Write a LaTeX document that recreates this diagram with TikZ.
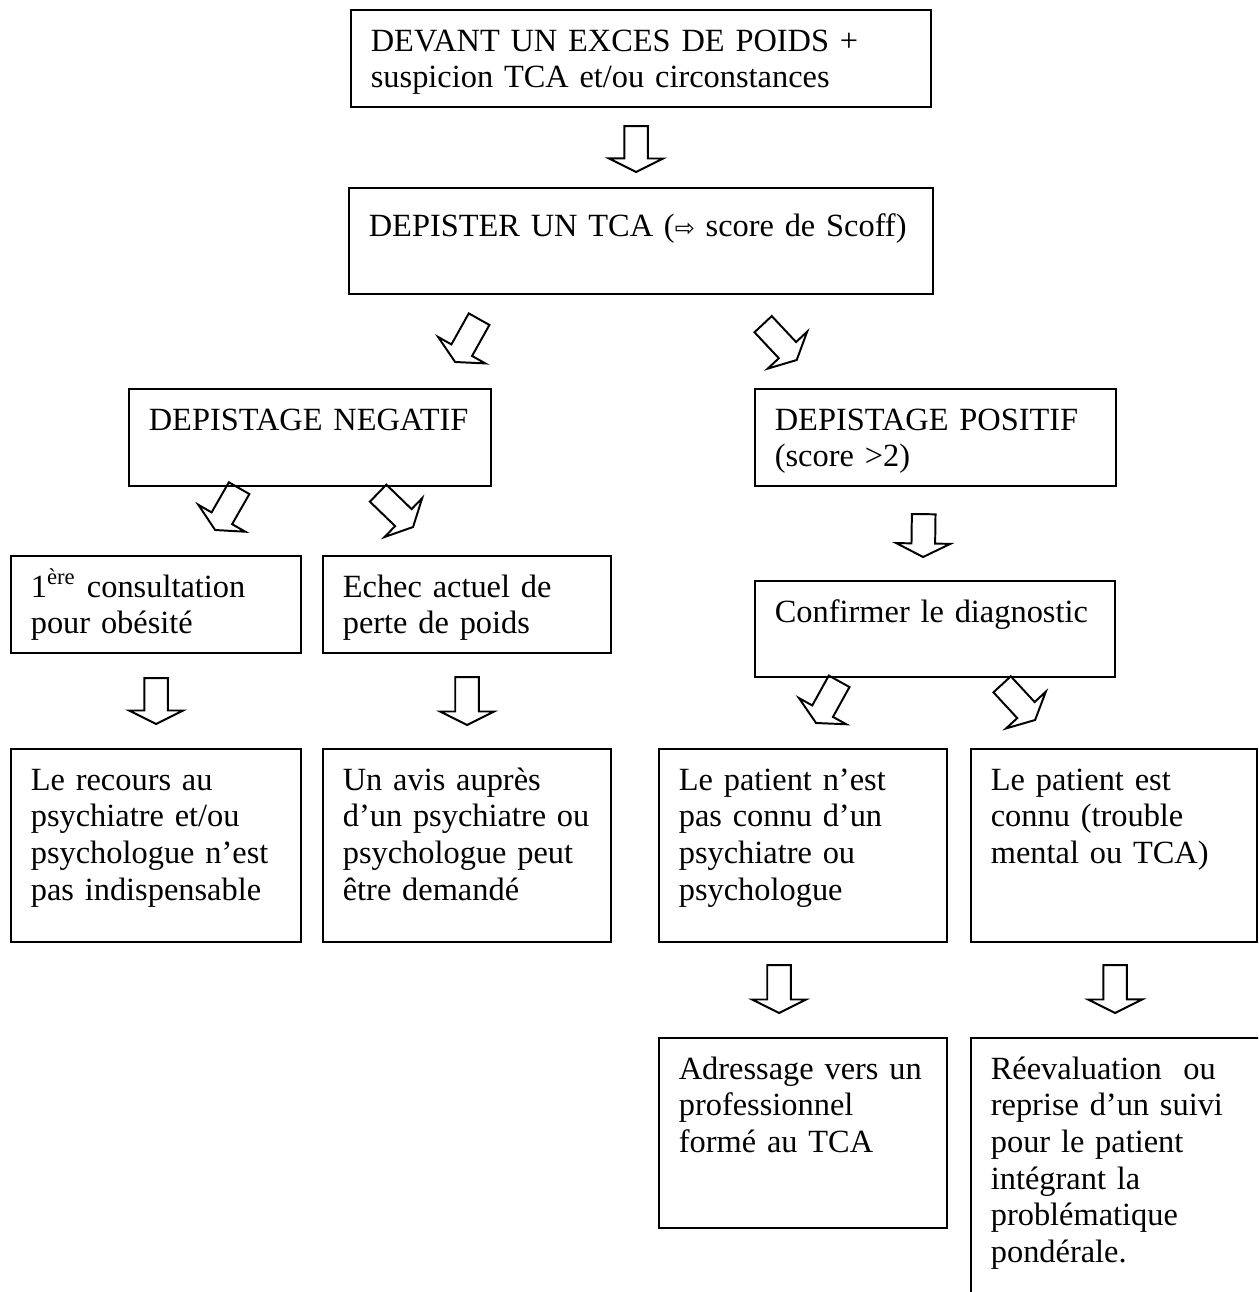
\documentclass[tikz,border=0pt]{standalone}
\usepackage{fontspec}
\setmainfont{Liberation Serif}
\newfontfamily\symfont{DejaVu Sans}
\usetikzlibrary{calc}

\tikzset{
    box/.style={draw, line width=0.8pt, anchor=north west, align=left,
        inner sep=0pt, text height=14.6pt,
        font=\fontsize{11.5}{13}\selectfont,
        execute at begin node={\leftskip=7pt \rightskip=0pt plus 1fil \hyphenpenalty=10000 \relax}},
    % hollow block arrow drawn from start to target
    hollow/.style={draw, line width=0.7pt,
        to path={
            ($(\tikztostart)!4.2pt!90:(\tikztotarget)$)
            -- ($(\tikztotarget)!4.8pt!(\tikztostart)!4.2pt!-90:(\tikztostart)$)
            -- ($(\tikztotarget)!4.8pt!(\tikztostart)!9.6pt!-90:(\tikztostart)$)
            -- (\tikztotarget)
            -- ($(\tikztotarget)!4.8pt!(\tikztostart)!9.6pt!90:(\tikztostart)$)
            -- ($(\tikztotarget)!4.8pt!(\tikztostart)!4.2pt!90:(\tikztostart)$)
            -- ($(\tikztostart)!4.2pt!-90:(\tikztotarget)$)
            -- cycle
        }}
}

\begin{document}
\begin{tikzpicture}[x=0.355pt, y=-0.355pt]
    \useasboundingbox (0,0) rectangle (1258,1292);
    \clip (0,0) rectangle (1258,1292);

    % boxes
    \node[box, text width=205.9pt, text depth=19.8pt] (exces) at (350,9)
        {DEVANT UN EXCES DE POIDS +\\suspicion TCA et/ou circonstances};
    \node[box, text width=207.3pt, text height=17pt, text depth=20.6pt] (tca) at (348,187)
        {DEPISTER UN TCA ({\symfont\fontsize{8.5}{9}\selectfont ⇨} score de Scoff)};
    \node[box, text width=128.5pt, text depth=19.8pt] (negatif) at (128,388)
        {DEPISTAGE NEGATIF};
    \node[box, text width=128.2pt, text depth=19.8pt] (positif) at (754,388)
        {DEPISTAGE POSITIF\\(score >2)};
    \node[box, text width=102.95pt, text depth=19.8pt] (premiere) at (10,555)
        {1\textsuperscript{ère} consultation\\pour obésité};
    \node[box, text width=102.2pt, text depth=19.8pt] (echec) at (322,555)
        {Echec actuel de\\perte de poids};
    \node[box, text width=127.8pt, text depth=19.5pt] (confirmer) at (754,580)
        {Confirmer le diagnostic};
    \node[box, text width=102.95pt, text depth=53.9pt] (recours) at (10,748)
        {Le recours au\\psychiatre et/ou\\psychologue n’est\\pas indispensable};
    \node[box, text width=102.2pt, text depth=53.9pt] (avis) at (322,748)
        {Un avis auprès\\d’un psychiatre ou\\psychologue peut\\être demandé};
    \node[box, text width=102.2pt, text depth=53.9pt] (inconnu) at (658,748)
        {Le patient n’est\\pas connu d’un\\psychiatre ou\\psychologue};
    \node[box, text width=101.5pt, text depth=53.9pt] (connu) at (970,748)
        {Le patient est\\connu (trouble\\mental ou TCA)};
    \node[box, text width=102.2pt, text depth=52.85pt] (adressage) at (658,1037)
        {Adressage vers un\\professionnel\\formé au TCA};
    \node[box, text width=106.5pt, text depth=82.3pt] (reevaluation) at (970,1037)
        {Réevaluation\ \ ou\\reprise d’un suivi\\pour le patient\\intégrant la\\problématique\\pondérale.};

    % arrows
    \draw[hollow] ($(exces.south)+(-5,18)$) to ($(tca.north)+(-5,-15)$);
    \draw[hollow] ($(tca.south)+(-162,24)$) to ($(negatif.north)+(145,-26)$);
    \draw[hollow] ($(tca.south)+(122,29)$) to ($(positif.north)+(-139,-28)$);
    \draw[hollow] ($(negatif.south)+(-71,1)$) to ($(premiere.north)+(59,-25)$);
    \draw[hollow] ($(negatif.south)+(68,6)$) to ($(echec.north)+(-54,-28)$);
    \draw[hollow] ($(positif.south)+(-12,27)$) to ($(confirmer.north)+(-12,-23)$);
    \draw[hollow] ($(premiere.south)+(0,24)$) to ($(recours.north)+(0,-24)$);
    \draw[hollow] ($(echec.south)+(0,23)$) to ($(avis.north)+(0,-23)$);
    \draw[hollow] ($(confirmer.south)+(-96,3)$) to ($(inconnu.north)+(13,-25)$);
    \draw[hollow] ($(confirmer.south)+(67,6)$) to ($(connu.north)+(-79,-28)$);
    \draw[hollow] ($(inconnu.south)+(-24,22)$) to ($(adressage.north)+(-24,-24)$);
    \draw[hollow] ($(connu.south)+(1,22)$) to ($(reevaluation.north)+(-6,-24)$);
\end{tikzpicture}
\end{document}
